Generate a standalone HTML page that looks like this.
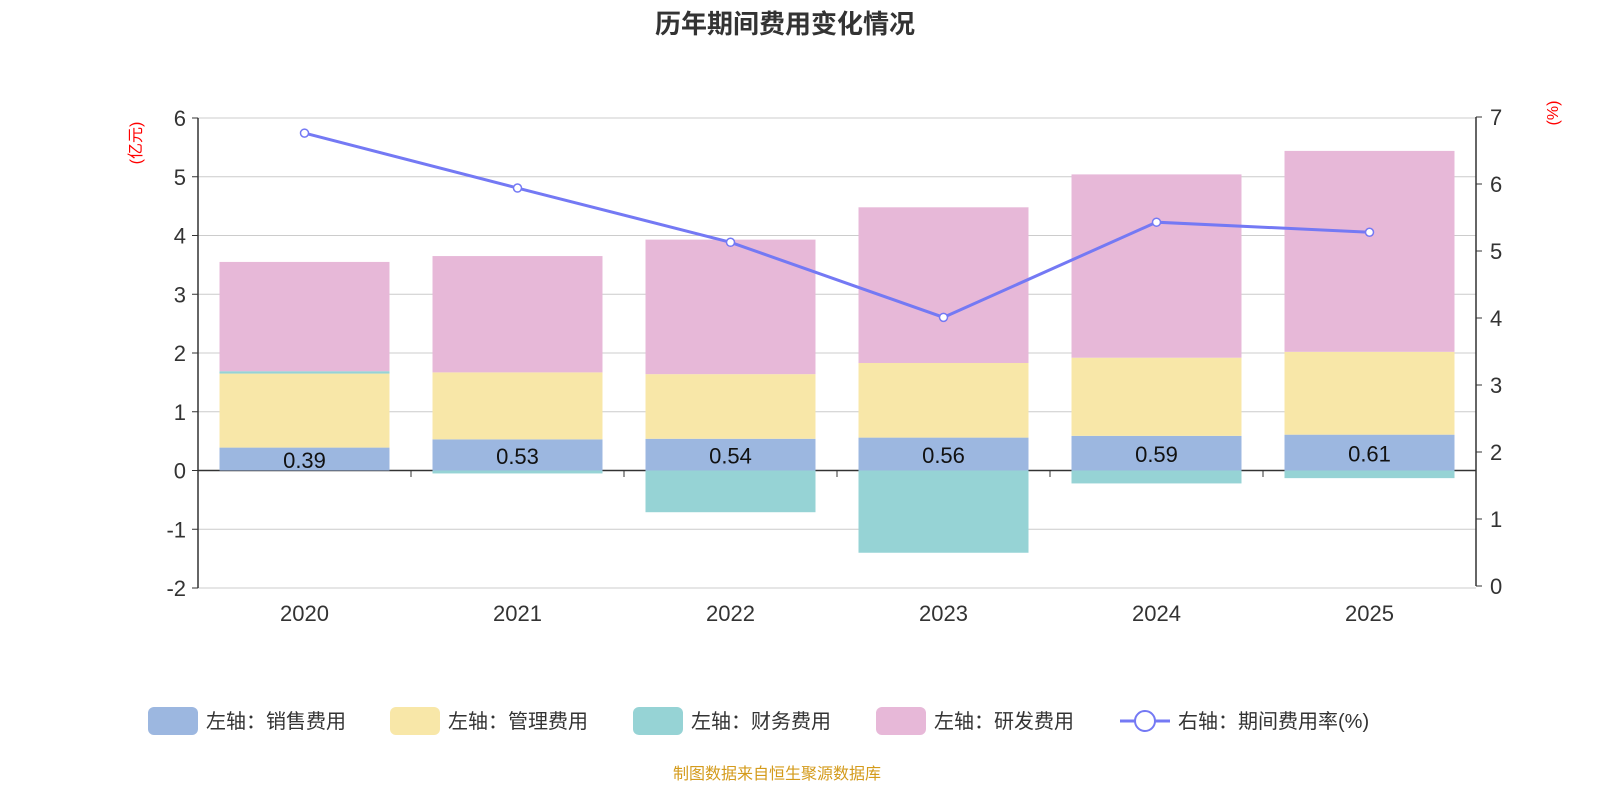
<!DOCTYPE html>
<html><head><meta charset="utf-8">
<style>
body{margin:0;background:#fff;font-family:"Liberation Sans","Noto Sans CJK SC",sans-serif;}
svg text{font-family:"Liberation Sans","Noto Sans CJK SC",sans-serif;}
</style></head>
<body>
<svg id="chart" width="1600" height="800" xmlns="http://www.w3.org/2000/svg">
<text x="785" y="33" text-anchor="middle" font-size="26" font-weight="bold" fill="#333">历年期间费用变化情况</text>
<text transform="translate(141,143) rotate(-90)" text-anchor="middle" font-size="16" fill="red">(亿元)</text>
<text transform="translate(1558,113) rotate(-90)" text-anchor="middle" font-size="16" fill="red">(%)</text>
<g id="grid"></g><g id="bars"></g><g id="axes"></g><g id="line"></g>
<g font-size="20" fill="#333">
<rect x="148" y="707" width="50" height="28" rx="6" fill="#9cb7e0"/>
<text x="206" y="728">左轴：销售费用</text>
<rect x="390" y="707" width="50" height="28" rx="6" fill="#f8e7a8"/>
<text x="448" y="728">左轴：管理费用</text>
<rect x="633" y="707" width="50" height="28" rx="6" fill="#96d3d5"/>
<text x="691" y="728">左轴：财务费用</text>
<rect x="876" y="707" width="50" height="28" rx="6" fill="#e7b8d8"/>
<text x="934" y="728">左轴：研发费用</text>
<line x1="1120" y1="721" x2="1170" y2="721" stroke="#7479f4" stroke-width="3"/>
<circle cx="1145" cy="721" r="10" fill="#fff" stroke="#7479f4" stroke-width="2"/>
<text x="1178" y="728">右轴：期间费用率(%)</text>
</g>
<text x="777" y="779" text-anchor="middle" font-size="16" fill="#d49b1c">制图数据来自恒生聚源数据库</text>
</svg>
<script>
const years=["2020","2021","2022","2023","2024","2025"];
const sales=[0.39,0.53,0.54,0.56,0.59,0.61];
const admin=[1.26,1.14,1.10,1.27,1.33,1.41];
const finance=[0.04,-0.05,-0.71,-1.40,-0.22,-0.13];
const rd=[1.86,1.98,2.29,2.65,3.12,3.42];
const rate=[6.76,5.94,5.13,4.01,5.43,5.28];
const leftTicks=[-2,-1,0,1,2,3,4,5,6];
const rightTicks=[0,1,2,3,4,5,6,7];
const NS="http://www.w3.org/2000/svg";
const x0=198,x1=1476,bw=(x1-x0)/years.length;
const yL=v=>470.5-v*58.75;
const yR=v=>586-v*67;
const xc=i=>x0+bw*(i+0.5);
function mk(p,t,a){const e=document.createElementNS(NS,t);for(const k in a)e.setAttribute(k,a[k]);document.getElementById(p).appendChild(e);return e;}
leftTicks.forEach(v=>{
 const g=mk('grid','line',{x1:x0,x2:x1,y1:yL(v),y2:yL(v),stroke:v===0?'#333':'#ccc','stroke-width':v===0?1.5:1});
 
 
 const t=mk('axes','text',{x:x0-12,y:yL(v)+8,'text-anchor':'end','font-size':22,fill:'#333'});t.textContent=v;
 
 
 mk('axes','line',{x1:x0-6,x2:x0,y1:yL(v),y2:yL(v),stroke:'#333'});
});
rightTicks.forEach(v=>{
 const t=mk('axes','text',{x:x1+14,y:yR(v)+8,'font-size':22,fill:'#333'});t.textContent=v;
 
 
 mk('axes','line',{x1:x1,x2:x1+6,y1:yR(v),y2:yR(v),stroke:'#333'});
});
mk('axes','line',{x1:x0,x2:x0,y1:yL(6),y2:yL(-2),stroke:'#333','stroke-width':1.5});
mk('axes','line',{x1:x1,x2:x1,y1:yR(7),y2:yR(0),stroke:'#333','stroke-width':1.5});
years.forEach((y,i)=>{
 mk('axes','line',{x1:x0+bw*(i+1),x2:x0+bw*(i+1),y1:470,y2:477,stroke:'#333'});
 const t=mk('axes','text',{x:xc(i),y:621,'text-anchor':'middle','font-size':22,fill:'#333'});t.textContent=y;
 
 
 const bx=xc(i)-85,w=170;
 let pos=0,neg=0;
 const series=[[sales,'#9cb7e0','bar-sales'],[admin,'#f8e7a8','bar-admin'],[finance,'#96d3d5','bar-finance'],[rd,'#e7b8d8','bar-rd']];
 series.forEach(([arr,c,n])=>{
  const v=arr[i];let a,b;
  if(v>=0){a=pos;b=pos+v;pos=b;}else{a=neg;b=neg+v;neg=b;}
  const r=mk('bars','rect',{x:bx,width:w,y:Math.min(yL(a),yL(b)),height:Math.abs(yL(a)-yL(b)),fill:c});
  
  
 });
 const l=mk('bars','text',{x:xc(i),y:(yL(0)+yL(sales[i]))/2+9,'text-anchor':'middle','font-size':22,fill:'#111'});l.textContent=sales[i].toFixed(2);
 
 
});
const pl=mk('line','polyline',{points:rate.map((v,i)=>xc(i)+','+yR(v)).join(' '),fill:'none',stroke:'#7479f4','stroke-width':3});


rate.forEach((v,i)=>{
 const c=mk('line','circle',{cx:xc(i),cy:yR(v),r:4,fill:'#fff',stroke:'#7479f4','stroke-width':1.5});
 
 
});
</script>
</body></html>
